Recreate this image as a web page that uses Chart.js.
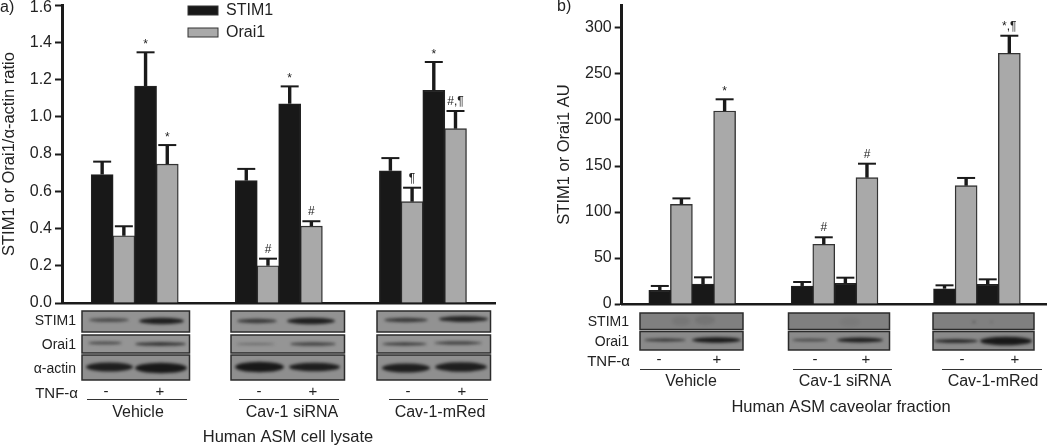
<!DOCTYPE html>
<html>
<head>
<meta charset="utf-8">
<title>STIM1 and Orai1</title>
<script src="https://cdn.jsdelivr.net/npm/chart.js@4/dist/chart.umd.min.js"></script>
<style>
  html, body { margin: 0; padding: 0; background: #fff; overflow: hidden; }
  canvas { position: absolute; left: 0; top: 0; }
</style>
</head>
<body>
<canvas id="chartA" width="1050" height="446"></canvas>
<canvas id="chartB" width="1050" height="446"></canvas>
<script>
// order in every series: Vehicle -/+, Cav-1 siRNA -/+, Cav-1-mRed -/+
const groupNames = ['Vehicle', 'Cav-1 siRNA', 'Cav-1-mRed'];
const tnfSigns = ['-', '+'];
const seriesNames = ['STIM1', 'Orai1'];

// panel a
const stimA = [0.69, 1.165, 0.657, 1.07, 0.71, 1.142];
const stimErrTopA = [0.759, 1.346, 0.72, 1.163, 0.778, 1.294];
const stimMarksA = ['', '*', '', '*', '', '*'];
const oraiA = [0.361, 0.746, 0.20, 0.413, 0.544, 0.936];
const oraiErrTopA = [0.412, 0.848, 0.238, 0.439, 0.619, 1.031];
const oraiMarksA = ['', '*', '#', '#', '¶', '#,¶'];

// panel b
const stimB = [14.9, 21.7, 19.6, 22.5, 16.6, 21.4];
const stimErrTopB = [19.6, 29, 23.9, 28.6, 20.3, 26.8];
const stimMarksB = ['', '', '', '', '', ''];
const oraiB = [108.3, 209.8, 64.9, 137.3, 128.6, 272.5];
const oraiErrTopB = [114.8, 222.5, 72.5, 152.5, 137, 291.6];
const oraiMarksB = ['', '*', '#', '#', '', '*,¶'];

const COLORS = { stim: '#181818', orai: '#a9a9a9', line: '#1a1a1a', text: '#222' };
const FONT = '"Liberation Sans", Arial, sans-serif';

// western blot strips, page pixels: [x0, x1, y, thickness, darkness] per band
const blotsA = {
  rowLabels: [['STIM1', 321], ['Orai1', 345], ['α-actin', 369]],
  labelRight: 76,
  rows: [[311, 332], [335, 353], [355, 380]],
  shade: ['#929292', '#959595', '#8f8f8f'],
  boxes: [[82, 189.5], [231, 344.5], [377, 490.5]],
  bands: [
    [[89, 129, 320, 4, 0.55], [139, 184, 321, 6.5, 0.9], [88, 122, 343, 2.5, 0.65], [135, 186, 344, 3.5, 0.8], [86, 133, 367, 9, 0.9], [135, 187, 368, 10.5, 0.95]],
    [[237, 277, 321, 4.5, 0.7], [287, 335, 321, 6.5, 0.9], [236, 275, 344, 2, 0.35], [290, 336, 344, 3.5, 0.65], [235, 284, 367, 10.5, 0.95], [289, 340, 367, 8.5, 0.9]],
    [[384, 428, 320, 4.5, 0.7], [439, 488, 319, 6, 0.85], [382, 427, 344, 3, 0.75], [434, 482, 343, 3, 0.7], [382, 430, 368, 9, 0.9], [435, 487, 367, 9.5, 0.9]]
  ]
};
const blotsB = {
  rowLabels: [['STIM1', 322], ['Orai1', 342]],
  labelRight: 629,
  rows: [[313, 329.5], [331.5, 350]],
  shade: ['#808080', '#8a8a8a'],
  boxes: [[640, 743], [788.5, 889.5], [933, 1034]],
  bands: [
    [[644, 686, 340, 3, 0.75], [692, 741, 340, 5.5, 0.95], [672, 690, 321, 9, 0.08], [695, 715, 320, 10, 0.1]],
    [[792, 828, 340, 2.5, 0.6], [837, 883, 340, 5, 0.9], [840, 860, 322, 9, 0.05]],
    [[934, 978, 341, 3.5, 0.9], [980, 1032, 341, 8.5, 0.95], [972, 976, 322, 2.5, 0.25], [990, 993, 322, 2, 0.2]]
  ]
};

function drawText(ctx, str, x, y, size, align) {
  ctx.font = size + 'px ' + FONT;
  ctx.fillStyle = COLORS.text;
  ctx.textAlign = align || 'center';
  ctx.textBaseline = 'middle';
  ctx.fillText(str, x, y);
}

// draws the strips of one panel
function drawBlots(ctx, blots) {
  blots.boxes.forEach((box, g) => {
    blots.rows.forEach((row, r) => {
      ctx.fillStyle = blots.shade[r];
      ctx.fillRect(box[0], row[0], box[1] - box[0], row[1] - row[0]);
    });
    ctx.save();
    ctx.beginPath();
    blots.rows.forEach(row => ctx.rect(box[0], row[0], box[1] - box[0], row[1] - row[0]));
    ctx.clip();
    ctx.filter = 'blur(1.4px)';
    blots.bands[g].forEach(band => {
      ctx.fillStyle = 'rgba(18,18,18,' + band[4] + ')';
      ctx.beginPath();
      ctx.ellipse((band[0] + band[1]) / 2, band[2], (band[1] - band[0]) / 2, band[3] / 2, 0, 0, Math.PI * 2);
      ctx.fill();
    });
    ctx.restore();
    ctx.strokeStyle = '#2b2b2b';
    ctx.lineWidth = 1.5;
    blots.rows.forEach(row => ctx.strokeRect(box[0], row[0], box[1] - box[0], row[1] - row[0]));
  });
  blots.rowLabels.forEach(l => drawText(ctx, l[0], blots.labelRight, l[1], 14, 'right'));
}

// top-only error bars and the significance marks above them
const errorBarsPlugin = {
  id: 'errorBars',
  afterDatasetsDraw(chart, args, opts) {
    const ctx = chart.ctx;
    const yScale = chart.scales.y;
    opts.tops.forEach((tops, ds) => {
      const meta = chart.getDatasetMeta(ds);
      meta.data.forEach((bar, i) => {
        const yTop = yScale.getPixelForValue(tops[i]);
        ctx.strokeStyle = COLORS.line;
        ctx.lineWidth = 3.4;
        ctx.beginPath();
        ctx.moveTo(bar.x, bar.y);
        ctx.lineTo(bar.x, yTop);
        ctx.stroke();
        ctx.lineWidth = 2;
        ctx.beginPath();
        ctx.moveTo(bar.x - 9, yTop);
        ctx.lineTo(bar.x + 9, yTop);
        ctx.stroke();
        const mark = opts.marks[ds][i];
        if (mark) {
          ctx.font = '12px ' + FONT;
          ctx.fillStyle = COLORS.text;
          ctx.textAlign = 'center';
          ctx.textBaseline = 'alphabetic';
          ctx.fillText(mark, bar.x, yTop - (mark === '*' ? 4 : 6));
        }
      });
    });
  }
};

// everything below the x axis plus the panel letter
const annotationPlugin = {
  id: 'annotations',
  afterDraw(chart, args, opts) {
    const ctx = chart.ctx;
    drawBlots(ctx, opts.blots);
    drawText(ctx, opts.letter[0], opts.letter[1], opts.letter[2], 16, 'left');
    drawText(ctx, 'TNF-α', opts.tnfRight, opts.tnfY, 15, 'right');
    groupNames.forEach((name, g) => {
      const p = opts.groups[g];
      drawText(ctx, tnfSigns[0], p.minus, opts.tnfY - 2, 15);
      drawText(ctx, tnfSigns[1], p.plus, opts.tnfY - 2, 15);
      ctx.strokeStyle = '#333';
      ctx.lineWidth = 1.2;
      ctx.beginPath();
      ctx.moveTo(p.line[0], opts.lineY);
      ctx.lineTo(p.line[1], opts.lineY);
      ctx.stroke();
      drawText(ctx, name, p.label, opts.nameY, 16);
    });
    drawText(ctx, opts.caption, opts.captionX, opts.captionY, 16.5);
    if (opts.legend) {
      seriesNames.forEach((name, s) => {
        const top = opts.legend.y[s];
        ctx.fillStyle = s === 0 ? COLORS.stim : COLORS.orai;
        ctx.fillRect(opts.legend.x, top, 30, 9);
        ctx.strokeStyle = '#333';
        ctx.lineWidth = 1;
        ctx.strokeRect(opts.legend.x, top, 30, 9);
        drawText(ctx, name, opts.legend.x + 38, top + 4.5, 16, 'left');
      });
    }
  }
};

// bar centre in bar widths: two bars per TNF state, groups set apart by groupStep
function barPoints(values, series, groupStep) {
  return values.map((v, i) => ({
    x: Math.floor(i / 2) * groupStep + (i % 2) * 2 + series + 0.5,
    y: v
  }));
}

function makeChart(id, cfg) {
  return new Chart(document.getElementById(id), {
    type: 'bar',
    data: {
      datasets: [
        { label: seriesNames[0], data: barPoints(cfg.stim, 0, cfg.groupStep), backgroundColor: COLORS.stim, borderColor: '#222', borderWidth: 1.2 },
        { label: seriesNames[1], data: barPoints(cfg.orai, 1, cfg.groupStep), backgroundColor: COLORS.orai, borderColor: '#333', borderWidth: 1.4 }
      ]
    },
    options: {
      responsive: false,
      animation: false,
      events: [],
      grouped: false,
      barThickness: 22,
      layout: { padding: { left: cfg.pad[0], right: cfg.pad[1], top: 5, bottom: cfg.pad[2] } },
      plugins: {
        legend: { display: false },
        tooltip: { enabled: false },
        errorBars: { tops: [cfg.stimTops, cfg.oraiTops], marks: [cfg.stimMarks, cfg.oraiMarks] },
        annotations: cfg.notes
      },
      scales: {
        x: {
          type: 'linear',
          offset: false,
          min: cfg.xRange[0],
          max: cfg.xRange[1],
          ticks: { display: false },
          grid: { display: false, drawTicks: false },
          border: { display: true, width: 2.4, color: COLORS.line },
          afterFit(scale) { scale.height = 0; scale.paddingLeft = 0; scale.paddingRight = 0; }
        },
        y: {
          min: 0,
          max: cfg.yMax,
          // keep the plot box where the reference has it, labels may hang over
          afterFit(scale) { scale.width = cfg.axisWidth; scale.paddingTop = 0; scale.paddingBottom = 0; },
          ticks: {
            stepSize: cfg.yStep,
            includeBounds: false,
            padding: 3,
            color: COLORS.text,
            // top label of panel a is a two line label with a tight line height, this moves it 3px down off the page edge
            font: c => ({ family: FONT, size: 16, lineHeight: c.tick && c.tick.value > 1.59 && c.tick.value < 2 ? 0.375 : 1.2 }),
            callback: cfg.tickText
          },
          grid: { drawOnChartArea: false, tickLength: 7, tickWidth: 2, color: COLORS.line },
          border: { display: true, width: 3, color: COLORS.line },
          title: {
            display: true,
            text: cfg.yTitle,
            color: COLORS.text,
            font: { family: FONT, size: 16.5 },
            padding: 0
          }
        }
      }
    },
    plugins: [errorBarsPlugin, annotationPlugin]
  });
}

makeChart('chartA', {
  stim: stimA, orai: oraiA, stimTops: stimErrTopA, oraiTops: oraiErrTopA,
  stimMarks: stimMarksA, oraiMarks: oraiMarksA,
  groupStep: 6.64, xRange: [-1.35, 18.6], yMax: 1.6, yStep: 0.2,
  tickText: v => (v > 1.59 ? ['', v.toFixed(1)] : v.toFixed(1)),
  yTitle: 'STIM1 or Orai1/α-actin ratio',
  pad: [0, 555, 143], axisWidth: 62,
  notes: {
    blots: blotsA,
    letter: ['a)', 0, 8],
    tnfRight: 78, tnfY: 394, lineY: 399.5, nameY: 413,
    groups: [
      { minus: 106, plus: 160, line: [87, 187], label: 138 },
      { minus: 259, plus: 313, line: [239, 339], label: 292 },
      { minus: 408, plus: 462, line: [389, 488], label: 440 }
    ],
    caption: 'Human ASM cell lysate', captionX: 288, captionY: 437,
    legend: { x: 188, y: [6, 28] }
  }
});

makeChart('chartB', {
  stim: stimB, orai: oraiB, stimTops: stimErrTopB, oraiTops: oraiErrTopB,
  stimMarks: stimMarksB, oraiMarks: oraiMarksB,
  groupStep: 6.59, xRange: [-1.264, 18.41], yMax: 325, yStep: 50,
  tickText: v => String(v),
  yTitle: 'STIM1 or Orai1 AU',
  pad: [555, 3.3, 142], axisWidth: 66.7,
  notes: {
    blots: blotsB,
    letter: ['b)', 557, 7],
    tnfRight: 630, tnfY: 362, lineY: 369.5, nameY: 382,
    groups: [
      { minus: 659, plus: 717, line: [640, 740], label: 691 },
      { minus: 815, plus: 866, line: [793, 892], label: 845 },
      { minus: 962, plus: 1015, line: [942, 1042], label: 993 }
    ],
    caption: 'Human ASM caveolar fraction', captionX: 841, captionY: 407
  }
});
</script>
</body>
</html>
